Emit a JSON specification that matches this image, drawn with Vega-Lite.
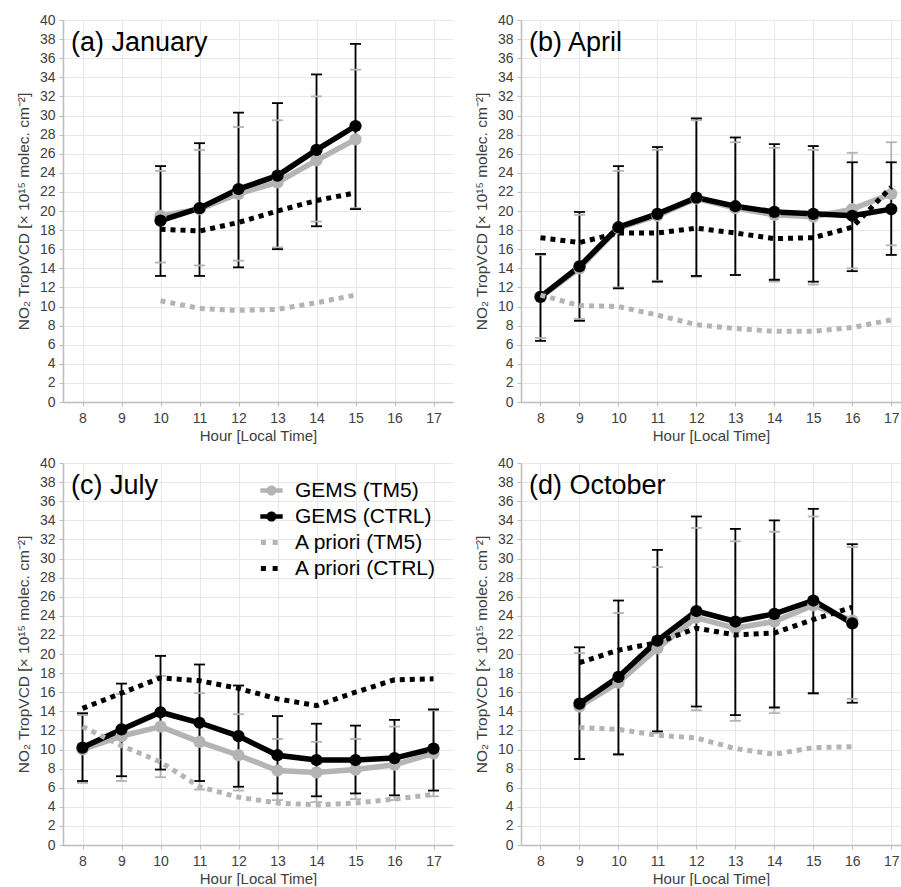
{
  "$schema": "https://vega.github.io/schema/vega-lite/v6.json",
  "background": "white",
  "padding": {"left": 16, "top": 13, "right": 0, "bottom": 0},
  "config": {
    "font": "Liberation Sans",
    "view": {"stroke": null},
    "axis": {
      "domainColor": "#bdbdbd", "domainWidth": 1.5, "tickColor": "#bdbdbd", "tickSize": 4, "tickWidth": 1,
      "gridColor": "#e8e8e8", "gridWidth": 1,
      "labelFont": "Liberation Sans", "labelFontSize": 14, "labelColor": "#404040", "labelOverlap": false,
      "titleFont": "Liberation Sans", "titleFontSize": 15, "titleFontWeight": "normal", "titleColor": "#404040"
    },
    "axisX": {"labelPadding": 5, "titlePadding": 3},
    "axisY": {"labelPadding": 4, "titlePadding": 8, "titleFontSize": 15.5},
    "title": {"font": "Liberation Sans", "fontSize": 27, "fontWeight": "normal", "color": "#000000", "anchor": "start", "frame": "group", "offset": -44, "dx": 8, "baseline": "alphabetic"}
  },
  "datasets": {
    "gems": [
      {"month": "January", "hour": 10, "series": "GEMS (TM5)", "value": 19.5, "low": 14.6, "high": 24.2},
      {"month": "January", "hour": 11, "series": "GEMS (TM5)", "value": 20.2, "low": 14.3, "high": 26.4},
      {"month": "January", "hour": 12, "series": "GEMS (TM5)", "value": 21.8, "low": 14.8, "high": 28.8},
      {"month": "January", "hour": 13, "series": "GEMS (TM5)", "value": 23.0, "low": 16.2, "high": 29.5},
      {"month": "January", "hour": 14, "series": "GEMS (TM5)", "value": 25.3, "low": 18.9, "high": 32.0},
      {"month": "January", "hour": 15, "series": "GEMS (TM5)", "value": 27.5, "low": 20.3, "high": 34.8},
      {"month": "January", "hour": 10, "series": "GEMS (CTRL)", "value": 19.0, "low": 13.2, "high": 24.7},
      {"month": "January", "hour": 11, "series": "GEMS (CTRL)", "value": 20.3, "low": 13.2, "high": 27.1},
      {"month": "January", "hour": 12, "series": "GEMS (CTRL)", "value": 22.3, "low": 14.1, "high": 30.3},
      {"month": "January", "hour": 13, "series": "GEMS (CTRL)", "value": 23.7, "low": 16.0, "high": 31.3},
      {"month": "January", "hour": 14, "series": "GEMS (CTRL)", "value": 26.4, "low": 18.4, "high": 34.3},
      {"month": "January", "hour": 15, "series": "GEMS (CTRL)", "value": 28.9, "low": 20.2, "high": 37.5},

      {"month": "April", "hour": 8, "series": "GEMS (TM5)", "value": 11.0, "low": 6.7, "high": 15.4},
      {"month": "April", "hour": 9, "series": "GEMS (TM5)", "value": 14.0, "low": 8.7, "high": 19.6},
      {"month": "April", "hour": 10, "series": "GEMS (TM5)", "value": 18.2, "low": 12.0, "high": 24.2},
      {"month": "April", "hour": 11, "series": "GEMS (TM5)", "value": 19.5, "low": 12.7, "high": 26.4},
      {"month": "April", "hour": 12, "series": "GEMS (TM5)", "value": 21.3, "low": 13.1, "high": 29.5},
      {"month": "April", "hour": 13, "series": "GEMS (TM5)", "value": 20.3, "low": 13.3, "high": 27.2},
      {"month": "April", "hour": 14, "series": "GEMS (TM5)", "value": 19.6, "low": 12.6, "high": 26.6},
      {"month": "April", "hour": 15, "series": "GEMS (TM5)", "value": 19.4, "low": 12.3, "high": 26.4},
      {"month": "April", "hour": 16, "series": "GEMS (TM5)", "value": 20.2, "low": 14.0, "high": 26.1},
      {"month": "April", "hour": 17, "series": "GEMS (TM5)", "value": 21.8, "low": 16.4, "high": 27.2},
      {"month": "April", "hour": 8, "series": "GEMS (CTRL)", "value": 11.0, "low": 6.4, "high": 15.5},
      {"month": "April", "hour": 9, "series": "GEMS (CTRL)", "value": 14.2, "low": 8.5, "high": 19.9},
      {"month": "April", "hour": 10, "series": "GEMS (CTRL)", "value": 18.3, "low": 11.9, "high": 24.7},
      {"month": "April", "hour": 11, "series": "GEMS (CTRL)", "value": 19.7, "low": 12.6, "high": 26.7},
      {"month": "April", "hour": 12, "series": "GEMS (CTRL)", "value": 21.4, "low": 13.2, "high": 29.7},
      {"month": "April", "hour": 13, "series": "GEMS (CTRL)", "value": 20.5, "low": 13.3, "high": 27.7},
      {"month": "April", "hour": 14, "series": "GEMS (CTRL)", "value": 19.9, "low": 12.8, "high": 27.0},
      {"month": "April", "hour": 15, "series": "GEMS (CTRL)", "value": 19.7, "low": 12.6, "high": 26.8},
      {"month": "April", "hour": 16, "series": "GEMS (CTRL)", "value": 19.5, "low": 13.7, "high": 25.1},
      {"month": "April", "hour": 17, "series": "GEMS (CTRL)", "value": 20.2, "low": 15.4, "high": 25.1},

      {"month": "July", "hour": 8, "series": "GEMS (TM5)", "value": 10.0, "low": 6.5, "high": 13.6},
      {"month": "July", "hour": 9, "series": "GEMS (TM5)", "value": 11.4, "low": 6.7, "high": 15.8},
      {"month": "July", "hour": 10, "series": "GEMS (TM5)", "value": 12.4, "low": 7.1, "high": 17.7},
      {"month": "July", "hour": 11, "series": "GEMS (TM5)", "value": 10.8, "low": 5.8, "high": 15.9},
      {"month": "July", "hour": 12, "series": "GEMS (TM5)", "value": 9.4, "low": 5.7, "high": 13.7},
      {"month": "July", "hour": 13, "series": "GEMS (TM5)", "value": 7.8, "low": 4.7, "high": 11.1},
      {"month": "July", "hour": 14, "series": "GEMS (TM5)", "value": 7.6, "low": 4.5, "high": 10.8},
      {"month": "July", "hour": 15, "series": "GEMS (TM5)", "value": 7.9, "low": 4.8, "high": 11.1},
      {"month": "July", "hour": 16, "series": "GEMS (TM5)", "value": 8.4, "low": 4.7, "high": 12.4},
      {"month": "July", "hour": 17, "series": "GEMS (TM5)", "value": 9.6, "low": 5.1, "high": 14.1},
      {"month": "July", "hour": 8, "series": "GEMS (CTRL)", "value": 10.2, "low": 6.7, "high": 13.8},
      {"month": "July", "hour": 9, "series": "GEMS (CTRL)", "value": 12.1, "low": 7.2, "high": 16.9},
      {"month": "July", "hour": 10, "series": "GEMS (CTRL)", "value": 13.9, "low": 7.9, "high": 19.8},
      {"month": "July", "hour": 11, "series": "GEMS (CTRL)", "value": 12.8, "low": 6.7, "high": 18.9},
      {"month": "July", "hour": 12, "series": "GEMS (CTRL)", "value": 11.4, "low": 6.1, "high": 16.7},
      {"month": "July", "hour": 13, "series": "GEMS (CTRL)", "value": 9.4, "low": 5.4, "high": 13.5},
      {"month": "July", "hour": 14, "series": "GEMS (CTRL)", "value": 8.9, "low": 5.1, "high": 12.7},
      {"month": "July", "hour": 15, "series": "GEMS (CTRL)", "value": 8.9, "low": 5.4, "high": 12.5},
      {"month": "July", "hour": 16, "series": "GEMS (CTRL)", "value": 9.1, "low": 5.2, "high": 13.1},
      {"month": "July", "hour": 17, "series": "GEMS (CTRL)", "value": 10.1, "low": 5.7, "high": 14.2},

      {"month": "October", "hour": 9, "series": "GEMS (TM5)", "value": 14.5, "low": 9.0, "high": 20.1},
      {"month": "October", "hour": 10, "series": "GEMS (TM5)", "value": 17.0, "low": 9.4, "high": 24.3},
      {"month": "October", "hour": 11, "series": "GEMS (TM5)", "value": 20.6, "low": 11.7, "high": 29.1},
      {"month": "October", "hour": 12, "series": "GEMS (TM5)", "value": 23.8, "low": 14.1, "high": 33.2},
      {"month": "October", "hour": 13, "series": "GEMS (TM5)", "value": 22.7, "low": 13.0, "high": 31.8},
      {"month": "October", "hour": 14, "series": "GEMS (TM5)", "value": 23.4, "low": 13.8, "high": 32.8},
      {"month": "October", "hour": 15, "series": "GEMS (TM5)", "value": 25.1, "low": 15.8, "high": 34.4},
      {"month": "October", "hour": 16, "series": "GEMS (TM5)", "value": 23.5, "low": 15.3, "high": 31.2},
      {"month": "October", "hour": 9, "series": "GEMS (CTRL)", "value": 14.8, "low": 9.0, "high": 20.7},
      {"month": "October", "hour": 10, "series": "GEMS (CTRL)", "value": 17.6, "low": 9.5, "high": 25.6},
      {"month": "October", "hour": 11, "series": "GEMS (CTRL)", "value": 21.4, "low": 11.9, "high": 30.9},
      {"month": "October", "hour": 12, "series": "GEMS (CTRL)", "value": 24.5, "low": 14.5, "high": 34.4},
      {"month": "October", "hour": 13, "series": "GEMS (CTRL)", "value": 23.4, "low": 13.6, "high": 33.1},
      {"month": "October", "hour": 14, "series": "GEMS (CTRL)", "value": 24.2, "low": 14.4, "high": 34.0},
      {"month": "October", "hour": 15, "series": "GEMS (CTRL)", "value": 25.6, "low": 15.9, "high": 35.2},
      {"month": "October", "hour": 16, "series": "GEMS (CTRL)", "value": 23.2, "low": 14.9, "high": 31.5}
    ],
    "apriori": [
      {"month": "January", "hour": 10, "series": "A priori (TM5)", "value": 10.6},
      {"month": "January", "hour": 11, "series": "A priori (TM5)", "value": 9.8},
      {"month": "January", "hour": 12, "series": "A priori (TM5)", "value": 9.6},
      {"month": "January", "hour": 13, "series": "A priori (TM5)", "value": 9.7},
      {"month": "January", "hour": 14, "series": "A priori (TM5)", "value": 10.4},
      {"month": "January", "hour": 15, "series": "A priori (TM5)", "value": 11.2},
      {"month": "January", "hour": 10, "series": "A priori (CTRL)", "value": 18.1},
      {"month": "January", "hour": 11, "series": "A priori (CTRL)", "value": 17.9},
      {"month": "January", "hour": 12, "series": "A priori (CTRL)", "value": 18.8},
      {"month": "January", "hour": 13, "series": "A priori (CTRL)", "value": 20.0},
      {"month": "January", "hour": 14, "series": "A priori (CTRL)", "value": 21.1},
      {"month": "January", "hour": 15, "series": "A priori (CTRL)", "value": 21.9},

      {"month": "April", "hour": 8, "series": "A priori (TM5)", "value": 11.2},
      {"month": "April", "hour": 9, "series": "A priori (TM5)", "value": 10.1},
      {"month": "April", "hour": 10, "series": "A priori (TM5)", "value": 10.0},
      {"month": "April", "hour": 11, "series": "A priori (TM5)", "value": 9.1},
      {"month": "April", "hour": 12, "series": "A priori (TM5)", "value": 8.1},
      {"month": "April", "hour": 13, "series": "A priori (TM5)", "value": 7.7},
      {"month": "April", "hour": 14, "series": "A priori (TM5)", "value": 7.4},
      {"month": "April", "hour": 15, "series": "A priori (TM5)", "value": 7.4},
      {"month": "April", "hour": 16, "series": "A priori (TM5)", "value": 7.8},
      {"month": "April", "hour": 17, "series": "A priori (TM5)", "value": 8.6},
      {"month": "April", "hour": 8, "series": "A priori (CTRL)", "value": 17.2},
      {"month": "April", "hour": 9, "series": "A priori (CTRL)", "value": 16.7},
      {"month": "April", "hour": 10, "series": "A priori (CTRL)", "value": 17.7},
      {"month": "April", "hour": 11, "series": "A priori (CTRL)", "value": 17.7},
      {"month": "April", "hour": 12, "series": "A priori (CTRL)", "value": 18.2},
      {"month": "April", "hour": 13, "series": "A priori (CTRL)", "value": 17.7},
      {"month": "April", "hour": 14, "series": "A priori (CTRL)", "value": 17.1},
      {"month": "April", "hour": 15, "series": "A priori (CTRL)", "value": 17.2},
      {"month": "April", "hour": 16, "series": "A priori (CTRL)", "value": 18.3},
      {"month": "April", "hour": 17, "series": "A priori (CTRL)", "value": 22.5},

      {"month": "July", "hour": 8, "series": "A priori (TM5)", "value": 12.4},
      {"month": "July", "hour": 9, "series": "A priori (TM5)", "value": 10.4},
      {"month": "July", "hour": 10, "series": "A priori (TM5)", "value": 8.7},
      {"month": "July", "hour": 11, "series": "A priori (TM5)", "value": 6.1},
      {"month": "July", "hour": 12, "series": "A priori (TM5)", "value": 5.0},
      {"month": "July", "hour": 13, "series": "A priori (TM5)", "value": 4.4},
      {"month": "July", "hour": 14, "series": "A priori (TM5)", "value": 4.2},
      {"month": "July", "hour": 15, "series": "A priori (TM5)", "value": 4.4},
      {"month": "July", "hour": 16, "series": "A priori (TM5)", "value": 4.8},
      {"month": "July", "hour": 17, "series": "A priori (TM5)", "value": 5.3},
      {"month": "July", "hour": 8, "series": "A priori (CTRL)", "value": 14.3},
      {"month": "July", "hour": 9, "series": "A priori (CTRL)", "value": 15.9},
      {"month": "July", "hour": 10, "series": "A priori (CTRL)", "value": 17.5},
      {"month": "July", "hour": 11, "series": "A priori (CTRL)", "value": 17.2},
      {"month": "July", "hour": 12, "series": "A priori (CTRL)", "value": 16.4},
      {"month": "July", "hour": 13, "series": "A priori (CTRL)", "value": 15.3},
      {"month": "July", "hour": 14, "series": "A priori (CTRL)", "value": 14.6},
      {"month": "July", "hour": 15, "series": "A priori (CTRL)", "value": 16.0},
      {"month": "July", "hour": 16, "series": "A priori (CTRL)", "value": 17.3},
      {"month": "July", "hour": 17, "series": "A priori (CTRL)", "value": 17.4},

      {"month": "October", "hour": 9, "series": "A priori (TM5)", "value": 12.3},
      {"month": "October", "hour": 10, "series": "A priori (TM5)", "value": 12.1},
      {"month": "October", "hour": 11, "series": "A priori (TM5)", "value": 11.5},
      {"month": "October", "hour": 12, "series": "A priori (TM5)", "value": 11.2},
      {"month": "October", "hour": 13, "series": "A priori (TM5)", "value": 10.1},
      {"month": "October", "hour": 14, "series": "A priori (TM5)", "value": 9.5},
      {"month": "October", "hour": 15, "series": "A priori (TM5)", "value": 10.2},
      {"month": "October", "hour": 16, "series": "A priori (TM5)", "value": 10.3},
      {"month": "October", "hour": 9, "series": "A priori (CTRL)", "value": 19.1},
      {"month": "October", "hour": 10, "series": "A priori (CTRL)", "value": 20.4},
      {"month": "October", "hour": 11, "series": "A priori (CTRL)", "value": 21.2},
      {"month": "October", "hour": 12, "series": "A priori (CTRL)", "value": 22.7},
      {"month": "October", "hour": 13, "series": "A priori (CTRL)", "value": 22.0},
      {"month": "October", "hour": 14, "series": "A priori (CTRL)", "value": 22.2},
      {"month": "October", "hour": 15, "series": "A priori (CTRL)", "value": 23.6},
      {"month": "October", "hour": 16, "series": "A priori (CTRL)", "value": 24.9}
    ]
  },
  "columns": 2,
  "spacing": {"row": 61, "column": 68},
  "bounds": "flush",
  "resolve": {"scale": {"x": "independent", "y": "independent", "color": "independent", "fill": "independent", "shape": "independent"}},
  "concat": [
    {
      "width": 390, "height": 382,
      "title": {"text": "(a) January"},
      "encoding": {"x": {"field": "hour", "type": "quantitative", "scale": {"domain": [7.5, 17.5], "nice": false, "zero": false}, "axis": {"values": [8, 9, 10, 11, 12, 13, 14, 15, 16, 17], "title": "Hour [Local Time]"}}},
      "layer": [
        {"data": {"name": "gems"}, "transform": [{"filter": "datum.month == 'January'"}], "mark": {"type": "rule", "strokeWidth": 1.8},
         "encoding": {"y": {"field": "low", "type": "quantitative", "scale": {"domain": [0, 40], "nice": false, "zero": false}, "axis": {"values": [0, 2, 4, 6, 8, 10, 12, 14, 16, 18, 20, 22, 24, 26, 28, 30, 32, 34, 36, 38, 40], "title": "NO₂ TropVCD [× 10¹⁵ molec. cm⁻²]"}}, "y2": {"field": "high"},
          "color": {"field": "series", "type": "nominal", "scale": {"domain": ["GEMS (CTRL)", "GEMS (TM5)", "A priori (CTRL)", "A priori (TM5)"], "range": ["#000000", "#b4b4b4", "#000000", "#b4b4b4"]}, "legend": null}}},
        {"data": {"name": "gems"}, "transform": [{"filter": "datum.month == 'January'"}], "mark": {"type": "tick", "orient": "horizontal", "size": 11, "thickness": 1.8, "opacity": 1},
         "encoding": {"y": {"field": "low", "type": "quantitative", "scale": {"domain": [0, 40], "nice": false, "zero": false}, "axis": {"values": [0, 2, 4, 6, 8, 10, 12, 14, 16, 18, 20, 22, 24, 26, 28, 30, 32, 34, 36, 38, 40], "title": "NO₂ TropVCD [× 10¹⁵ molec. cm⁻²]"}},
          "color": {"field": "series", "type": "nominal", "scale": {"domain": ["GEMS (CTRL)", "GEMS (TM5)", "A priori (CTRL)", "A priori (TM5)"], "range": ["#000000", "#b4b4b4", "#000000", "#b4b4b4"]}, "legend": null}}},
        {"data": {"name": "gems"}, "transform": [{"filter": "datum.month == 'January'"}], "mark": {"type": "tick", "orient": "horizontal", "size": 11, "thickness": 1.8, "opacity": 1},
         "encoding": {"y": {"field": "high", "type": "quantitative", "scale": {"domain": [0, 40], "nice": false, "zero": false}, "axis": {"values": [0, 2, 4, 6, 8, 10, 12, 14, 16, 18, 20, 22, 24, 26, 28, 30, 32, 34, 36, 38, 40], "title": "NO₂ TropVCD [× 10¹⁵ molec. cm⁻²]"}},
          "color": {"field": "series", "type": "nominal", "scale": {"domain": ["GEMS (CTRL)", "GEMS (TM5)", "A priori (CTRL)", "A priori (TM5)"], "range": ["#000000", "#b4b4b4", "#000000", "#b4b4b4"]}, "legend": null}}},
        {"data": {"name": "gems"}, "transform": [{"filter": "datum.month == 'January'"}], "mark": {"type": "line", "strokeWidth": 5.5},
         "encoding": {"y": {"field": "value", "type": "quantitative", "scale": {"domain": [0, 40], "nice": false, "zero": false}, "axis": {"values": [0, 2, 4, 6, 8, 10, 12, 14, 16, 18, 20, 22, 24, 26, 28, 30, 32, 34, 36, 38, 40], "title": "NO₂ TropVCD [× 10¹⁵ molec. cm⁻²]"}},
          "color": {"field": "series", "type": "nominal", "scale": {"domain": ["GEMS (CTRL)", "GEMS (TM5)", "A priori (CTRL)", "A priori (TM5)"], "range": ["#000000", "#b4b4b4", "#000000", "#b4b4b4"]}, "legend": null}}},
        {"data": {"name": "gems"}, "transform": [{"filter": "datum.month == 'January'"}], "mark": {"type": "point", "filled": true, "size": 150, "opacity": 1},
         "encoding": {"y": {"field": "value", "type": "quantitative", "scale": {"domain": [0, 40], "nice": false, "zero": false}, "axis": {"values": [0, 2, 4, 6, 8, 10, 12, 14, 16, 18, 20, 22, 24, 26, 28, 30, 32, 34, 36, 38, 40], "title": "NO₂ TropVCD [× 10¹⁵ molec. cm⁻²]"}},
          "color": {"field": "series", "type": "nominal", "scale": {"domain": ["GEMS (CTRL)", "GEMS (TM5)", "A priori (CTRL)", "A priori (TM5)"], "range": ["#000000", "#b4b4b4", "#000000", "#b4b4b4"]}, "legend": null}}},
        {"data": {"name": "apriori"}, "transform": [{"filter": "datum.month == 'January'"}], "mark": {"type": "line", "strokeWidth": 5, "strokeDash": [5, 5], "strokeCap": "butt"},
         "encoding": {"y": {"field": "value", "type": "quantitative", "scale": {"domain": [0, 40], "nice": false, "zero": false}, "axis": {"values": [0, 2, 4, 6, 8, 10, 12, 14, 16, 18, 20, 22, 24, 26, 28, 30, 32, 34, 36, 38, 40], "title": "NO₂ TropVCD [× 10¹⁵ molec. cm⁻²]"}},
          "color": {"field": "series", "type": "nominal", "scale": {"domain": ["GEMS (CTRL)", "GEMS (TM5)", "A priori (CTRL)", "A priori (TM5)"], "range": ["#000000", "#b4b4b4", "#000000", "#b4b4b4"]}, "legend": null}}}
      ]
    },
    {
      "width": 380, "height": 382,
      "title": {"text": "(b) April"},
      "encoding": {"x": {"field": "hour", "type": "quantitative", "scale": {"domain": [7.5, 17.25], "nice": false, "zero": false}, "axis": {"values": [8, 9, 10, 11, 12, 13, 14, 15, 16, 17], "title": "Hour [Local Time]"}}},
      "layer": [
        {"data": {"name": "gems"}, "transform": [{"filter": "datum.month == 'April'"}], "mark": {"type": "rule", "strokeWidth": 1.8},
         "encoding": {"y": {"field": "low", "type": "quantitative", "scale": {"domain": [0, 40], "nice": false, "zero": false}, "axis": {"values": [0, 2, 4, 6, 8, 10, 12, 14, 16, 18, 20, 22, 24, 26, 28, 30, 32, 34, 36, 38, 40], "title": "NO₂ TropVCD [× 10¹⁵ molec. cm⁻²]"}}, "y2": {"field": "high"},
          "color": {"field": "series", "type": "nominal", "scale": {"domain": ["GEMS (CTRL)", "GEMS (TM5)", "A priori (CTRL)", "A priori (TM5)"], "range": ["#000000", "#b4b4b4", "#000000", "#b4b4b4"]}, "legend": null}}},
        {"data": {"name": "gems"}, "transform": [{"filter": "datum.month == 'April'"}], "mark": {"type": "tick", "orient": "horizontal", "size": 11, "thickness": 1.8, "opacity": 1},
         "encoding": {"y": {"field": "low", "type": "quantitative", "scale": {"domain": [0, 40], "nice": false, "zero": false}, "axis": {"values": [0, 2, 4, 6, 8, 10, 12, 14, 16, 18, 20, 22, 24, 26, 28, 30, 32, 34, 36, 38, 40], "title": "NO₂ TropVCD [× 10¹⁵ molec. cm⁻²]"}},
          "color": {"field": "series", "type": "nominal", "scale": {"domain": ["GEMS (CTRL)", "GEMS (TM5)", "A priori (CTRL)", "A priori (TM5)"], "range": ["#000000", "#b4b4b4", "#000000", "#b4b4b4"]}, "legend": null}}},
        {"data": {"name": "gems"}, "transform": [{"filter": "datum.month == 'April'"}], "mark": {"type": "tick", "orient": "horizontal", "size": 11, "thickness": 1.8, "opacity": 1},
         "encoding": {"y": {"field": "high", "type": "quantitative", "scale": {"domain": [0, 40], "nice": false, "zero": false}, "axis": {"values": [0, 2, 4, 6, 8, 10, 12, 14, 16, 18, 20, 22, 24, 26, 28, 30, 32, 34, 36, 38, 40], "title": "NO₂ TropVCD [× 10¹⁵ molec. cm⁻²]"}},
          "color": {"field": "series", "type": "nominal", "scale": {"domain": ["GEMS (CTRL)", "GEMS (TM5)", "A priori (CTRL)", "A priori (TM5)"], "range": ["#000000", "#b4b4b4", "#000000", "#b4b4b4"]}, "legend": null}}},
        {"data": {"name": "gems"}, "transform": [{"filter": "datum.month == 'April'"}], "mark": {"type": "line", "strokeWidth": 5.5},
         "encoding": {"y": {"field": "value", "type": "quantitative", "scale": {"domain": [0, 40], "nice": false, "zero": false}, "axis": {"values": [0, 2, 4, 6, 8, 10, 12, 14, 16, 18, 20, 22, 24, 26, 28, 30, 32, 34, 36, 38, 40], "title": "NO₂ TropVCD [× 10¹⁵ molec. cm⁻²]"}},
          "color": {"field": "series", "type": "nominal", "scale": {"domain": ["GEMS (CTRL)", "GEMS (TM5)", "A priori (CTRL)", "A priori (TM5)"], "range": ["#000000", "#b4b4b4", "#000000", "#b4b4b4"]}, "legend": null}}},
        {"data": {"name": "gems"}, "transform": [{"filter": "datum.month == 'April'"}], "mark": {"type": "point", "filled": true, "size": 150, "opacity": 1},
         "encoding": {"y": {"field": "value", "type": "quantitative", "scale": {"domain": [0, 40], "nice": false, "zero": false}, "axis": {"values": [0, 2, 4, 6, 8, 10, 12, 14, 16, 18, 20, 22, 24, 26, 28, 30, 32, 34, 36, 38, 40], "title": "NO₂ TropVCD [× 10¹⁵ molec. cm⁻²]"}},
          "color": {"field": "series", "type": "nominal", "scale": {"domain": ["GEMS (CTRL)", "GEMS (TM5)", "A priori (CTRL)", "A priori (TM5)"], "range": ["#000000", "#b4b4b4", "#000000", "#b4b4b4"]}, "legend": null}}},
        {"data": {"name": "apriori"}, "transform": [{"filter": "datum.month == 'April'"}], "mark": {"type": "line", "strokeWidth": 5, "strokeDash": [5, 5], "strokeCap": "butt"},
         "encoding": {"y": {"field": "value", "type": "quantitative", "scale": {"domain": [0, 40], "nice": false, "zero": false}, "axis": {"values": [0, 2, 4, 6, 8, 10, 12, 14, 16, 18, 20, 22, 24, 26, 28, 30, 32, 34, 36, 38, 40], "title": "NO₂ TropVCD [× 10¹⁵ molec. cm⁻²]"}},
          "color": {"field": "series", "type": "nominal", "scale": {"domain": ["GEMS (CTRL)", "GEMS (TM5)", "A priori (CTRL)", "A priori (TM5)"], "range": ["#000000", "#b4b4b4", "#000000", "#b4b4b4"]}, "legend": null}}}
      ]
    },
    {
      "width": 390, "height": 382,
      "title": {"text": "(c) July"},
      "encoding": {"x": {"field": "hour", "type": "quantitative", "scale": {"domain": [7.5, 17.5], "nice": false, "zero": false}, "axis": {"values": [8, 9, 10, 11, 12, 13, 14, 15, 16, 17], "title": "Hour [Local Time]"}}},
      "layer": [
        {"data": {"name": "gems"}, "transform": [{"filter": "datum.month == 'July'"}], "mark": {"type": "rule", "strokeWidth": 1.8},
         "encoding": {"y": {"field": "low", "type": "quantitative", "scale": {"domain": [0, 40], "nice": false, "zero": false}, "axis": {"values": [0, 2, 4, 6, 8, 10, 12, 14, 16, 18, 20, 22, 24, 26, 28, 30, 32, 34, 36, 38, 40], "title": "NO₂ TropVCD [× 10¹⁵ molec. cm⁻²]"}}, "y2": {"field": "high"},
          "color": {"field": "series", "type": "nominal", "scale": {"domain": ["GEMS (CTRL)", "GEMS (TM5)", "A priori (CTRL)", "A priori (TM5)"], "range": ["#000000", "#b4b4b4", "#000000", "#b4b4b4"]}, "legend": null}}},
        {"data": {"name": "gems"}, "transform": [{"filter": "datum.month == 'July'"}], "mark": {"type": "tick", "orient": "horizontal", "size": 11, "thickness": 1.8, "opacity": 1},
         "encoding": {"y": {"field": "low", "type": "quantitative", "scale": {"domain": [0, 40], "nice": false, "zero": false}, "axis": {"values": [0, 2, 4, 6, 8, 10, 12, 14, 16, 18, 20, 22, 24, 26, 28, 30, 32, 34, 36, 38, 40], "title": "NO₂ TropVCD [× 10¹⁵ molec. cm⁻²]"}},
          "color": {"field": "series", "type": "nominal", "scale": {"domain": ["GEMS (CTRL)", "GEMS (TM5)", "A priori (CTRL)", "A priori (TM5)"], "range": ["#000000", "#b4b4b4", "#000000", "#b4b4b4"]}, "legend": null}}},
        {"data": {"name": "gems"}, "transform": [{"filter": "datum.month == 'July'"}], "mark": {"type": "tick", "orient": "horizontal", "size": 11, "thickness": 1.8, "opacity": 1},
         "encoding": {"y": {"field": "high", "type": "quantitative", "scale": {"domain": [0, 40], "nice": false, "zero": false}, "axis": {"values": [0, 2, 4, 6, 8, 10, 12, 14, 16, 18, 20, 22, 24, 26, 28, 30, 32, 34, 36, 38, 40], "title": "NO₂ TropVCD [× 10¹⁵ molec. cm⁻²]"}},
          "color": {"field": "series", "type": "nominal", "scale": {"domain": ["GEMS (CTRL)", "GEMS (TM5)", "A priori (CTRL)", "A priori (TM5)"], "range": ["#000000", "#b4b4b4", "#000000", "#b4b4b4"]}, "legend": null}}},
        {"data": {"name": "gems"}, "transform": [{"filter": "datum.month == 'July'"}], "mark": {"type": "line", "strokeWidth": 5.5},
         "encoding": {"y": {"field": "value", "type": "quantitative", "scale": {"domain": [0, 40], "nice": false, "zero": false}, "axis": {"values": [0, 2, 4, 6, 8, 10, 12, 14, 16, 18, 20, 22, 24, 26, 28, 30, 32, 34, 36, 38, 40], "title": "NO₂ TropVCD [× 10¹⁵ molec. cm⁻²]"}},
          "color": {"field": "series", "type": "nominal", "scale": {"domain": ["GEMS (CTRL)", "GEMS (TM5)", "A priori (CTRL)", "A priori (TM5)"], "range": ["#000000", "#b4b4b4", "#000000", "#b4b4b4"]}, "legend": null}}},
        {"data": {"name": "gems"}, "transform": [{"filter": "datum.month == 'July'"}], "mark": {"type": "point", "filled": true, "size": 150, "opacity": 1},
         "encoding": {"y": {"field": "value", "type": "quantitative", "scale": {"domain": [0, 40], "nice": false, "zero": false}, "axis": {"values": [0, 2, 4, 6, 8, 10, 12, 14, 16, 18, 20, 22, 24, 26, 28, 30, 32, 34, 36, 38, 40], "title": "NO₂ TropVCD [× 10¹⁵ molec. cm⁻²]"}},
          "color": {"field": "series", "type": "nominal", "scale": {"domain": ["GEMS (CTRL)", "GEMS (TM5)", "A priori (CTRL)", "A priori (TM5)"], "range": ["#000000", "#b4b4b4", "#000000", "#b4b4b4"]}, "legend": null}}},
        {"data": {"name": "apriori"}, "transform": [{"filter": "datum.month == 'July'"}], "mark": {"type": "line", "strokeWidth": 5, "strokeDash": [5, 5], "strokeCap": "butt"},
         "encoding": {"y": {"field": "value", "type": "quantitative", "scale": {"domain": [0, 40], "nice": false, "zero": false}, "axis": {"values": [0, 2, 4, 6, 8, 10, 12, 14, 16, 18, 20, 22, 24, 26, 28, 30, 32, 34, 36, 38, 40], "title": "NO₂ TropVCD [× 10¹⁵ molec. cm⁻²]"}},
          "color": {"field": "series", "type": "nominal", "scale": {"domain": ["GEMS (CTRL)", "GEMS (TM5)", "A priori (CTRL)", "A priori (TM5)"], "range": ["#000000", "#b4b4b4", "#000000", "#b4b4b4"]}, "legend": null}}},
        {"data": {"name": "gems"}, "transform": [{"filter": "false"}], "mark": {"type": "point", "filled": true},
         "encoding": {"y": {"field": "value", "type": "quantitative", "scale": {"domain": [0, 40], "nice": false, "zero": false}, "axis": {"values": [0, 2, 4, 6, 8, 10, 12, 14, 16, 18, 20, 22, 24, 26, 28, 30, 32, 34, 36, 38, 40], "title": "NO₂ TropVCD [× 10¹⁵ molec. cm⁻²]"}},
          "fill": {"field": "series", "type": "nominal", "scale": {"domain": ["GEMS (TM5)", "GEMS (CTRL)", "A priori (TM5)", "A priori (CTRL)"], "range": ["#b4b4b4", "#000000", "#b4b4b4", "#000000"]},
            "legend": {"title": null, "orient": "top-right", "offset": 16, "padding": 0, "labelFont": "Liberation Sans", "labelFontSize": 21, "labelColor": "#000000", "labelOffset": 12, "symbolSize": 500, "symbolStrokeWidth": 0, "symbolOpacity": 1, "rowPadding": 4}},
          "shape": {"field": "series", "type": "nominal", "scale": {"domain": ["GEMS (TM5)", "GEMS (CTRL)", "A priori (TM5)", "A priori (CTRL)"], "range": ["M-1,-0.2H1V0.2H-1Z M0.45,0A0.45,0.45 0 1 1 -0.45,0A0.45,0.45 0 1 1 0.45,0Z", "M-1,-0.2H1V0.2H-1Z M0.45,0A0.45,0.45 0 1 1 -0.45,0A0.45,0.45 0 1 1 0.45,0Z", "M-0.95,-0.22H-0.5V0.22H-0.95Z M0.1,-0.22H0.55V0.22H0.1Z", "M-0.95,-0.22H-0.5V0.22H-0.95Z M0.1,-0.22H0.55V0.22H0.1Z"]},
            "legend": {"title": null, "orient": "top-right", "offset": 16, "padding": 0, "labelFont": "Liberation Sans", "labelFontSize": 21, "labelColor": "#000000", "labelOffset": 12, "symbolSize": 500, "symbolStrokeWidth": 0, "symbolOpacity": 1, "rowPadding": 4}}}}
      ]
    },
    {
      "width": 380, "height": 382,
      "title": {"text": "(d) October"},
      "encoding": {"x": {"field": "hour", "type": "quantitative", "scale": {"domain": [7.5, 17.25], "nice": false, "zero": false}, "axis": {"values": [8, 9, 10, 11, 12, 13, 14, 15, 16, 17], "title": "Hour [Local Time]"}}},
      "layer": [
        {"data": {"name": "gems"}, "transform": [{"filter": "datum.month == 'October'"}], "mark": {"type": "rule", "strokeWidth": 1.8},
         "encoding": {"y": {"field": "low", "type": "quantitative", "scale": {"domain": [0, 40], "nice": false, "zero": false}, "axis": {"values": [0, 2, 4, 6, 8, 10, 12, 14, 16, 18, 20, 22, 24, 26, 28, 30, 32, 34, 36, 38, 40], "title": "NO₂ TropVCD [× 10¹⁵ molec. cm⁻²]"}}, "y2": {"field": "high"},
          "color": {"field": "series", "type": "nominal", "scale": {"domain": ["GEMS (CTRL)", "GEMS (TM5)", "A priori (CTRL)", "A priori (TM5)"], "range": ["#000000", "#b4b4b4", "#000000", "#b4b4b4"]}, "legend": null}}},
        {"data": {"name": "gems"}, "transform": [{"filter": "datum.month == 'October'"}], "mark": {"type": "tick", "orient": "horizontal", "size": 11, "thickness": 1.8, "opacity": 1},
         "encoding": {"y": {"field": "low", "type": "quantitative", "scale": {"domain": [0, 40], "nice": false, "zero": false}, "axis": {"values": [0, 2, 4, 6, 8, 10, 12, 14, 16, 18, 20, 22, 24, 26, 28, 30, 32, 34, 36, 38, 40], "title": "NO₂ TropVCD [× 10¹⁵ molec. cm⁻²]"}},
          "color": {"field": "series", "type": "nominal", "scale": {"domain": ["GEMS (CTRL)", "GEMS (TM5)", "A priori (CTRL)", "A priori (TM5)"], "range": ["#000000", "#b4b4b4", "#000000", "#b4b4b4"]}, "legend": null}}},
        {"data": {"name": "gems"}, "transform": [{"filter": "datum.month == 'October'"}], "mark": {"type": "tick", "orient": "horizontal", "size": 11, "thickness": 1.8, "opacity": 1},
         "encoding": {"y": {"field": "high", "type": "quantitative", "scale": {"domain": [0, 40], "nice": false, "zero": false}, "axis": {"values": [0, 2, 4, 6, 8, 10, 12, 14, 16, 18, 20, 22, 24, 26, 28, 30, 32, 34, 36, 38, 40], "title": "NO₂ TropVCD [× 10¹⁵ molec. cm⁻²]"}},
          "color": {"field": "series", "type": "nominal", "scale": {"domain": ["GEMS (CTRL)", "GEMS (TM5)", "A priori (CTRL)", "A priori (TM5)"], "range": ["#000000", "#b4b4b4", "#000000", "#b4b4b4"]}, "legend": null}}},
        {"data": {"name": "gems"}, "transform": [{"filter": "datum.month == 'October'"}], "mark": {"type": "line", "strokeWidth": 5.5},
         "encoding": {"y": {"field": "value", "type": "quantitative", "scale": {"domain": [0, 40], "nice": false, "zero": false}, "axis": {"values": [0, 2, 4, 6, 8, 10, 12, 14, 16, 18, 20, 22, 24, 26, 28, 30, 32, 34, 36, 38, 40], "title": "NO₂ TropVCD [× 10¹⁵ molec. cm⁻²]"}},
          "color": {"field": "series", "type": "nominal", "scale": {"domain": ["GEMS (CTRL)", "GEMS (TM5)", "A priori (CTRL)", "A priori (TM5)"], "range": ["#000000", "#b4b4b4", "#000000", "#b4b4b4"]}, "legend": null}}},
        {"data": {"name": "gems"}, "transform": [{"filter": "datum.month == 'October'"}], "mark": {"type": "point", "filled": true, "size": 150, "opacity": 1},
         "encoding": {"y": {"field": "value", "type": "quantitative", "scale": {"domain": [0, 40], "nice": false, "zero": false}, "axis": {"values": [0, 2, 4, 6, 8, 10, 12, 14, 16, 18, 20, 22, 24, 26, 28, 30, 32, 34, 36, 38, 40], "title": "NO₂ TropVCD [× 10¹⁵ molec. cm⁻²]"}},
          "color": {"field": "series", "type": "nominal", "scale": {"domain": ["GEMS (CTRL)", "GEMS (TM5)", "A priori (CTRL)", "A priori (TM5)"], "range": ["#000000", "#b4b4b4", "#000000", "#b4b4b4"]}, "legend": null}}},
        {"data": {"name": "apriori"}, "transform": [{"filter": "datum.month == 'October'"}], "mark": {"type": "line", "strokeWidth": 5, "strokeDash": [5, 5], "strokeCap": "butt"},
         "encoding": {"y": {"field": "value", "type": "quantitative", "scale": {"domain": [0, 40], "nice": false, "zero": false}, "axis": {"values": [0, 2, 4, 6, 8, 10, 12, 14, 16, 18, 20, 22, 24, 26, 28, 30, 32, 34, 36, 38, 40], "title": "NO₂ TropVCD [× 10¹⁵ molec. cm⁻²]"}},
          "color": {"field": "series", "type": "nominal", "scale": {"domain": ["GEMS (CTRL)", "GEMS (TM5)", "A priori (CTRL)", "A priori (TM5)"], "range": ["#000000", "#b4b4b4", "#000000", "#b4b4b4"]}, "legend": null}}}
      ]
    }
  ]
}
